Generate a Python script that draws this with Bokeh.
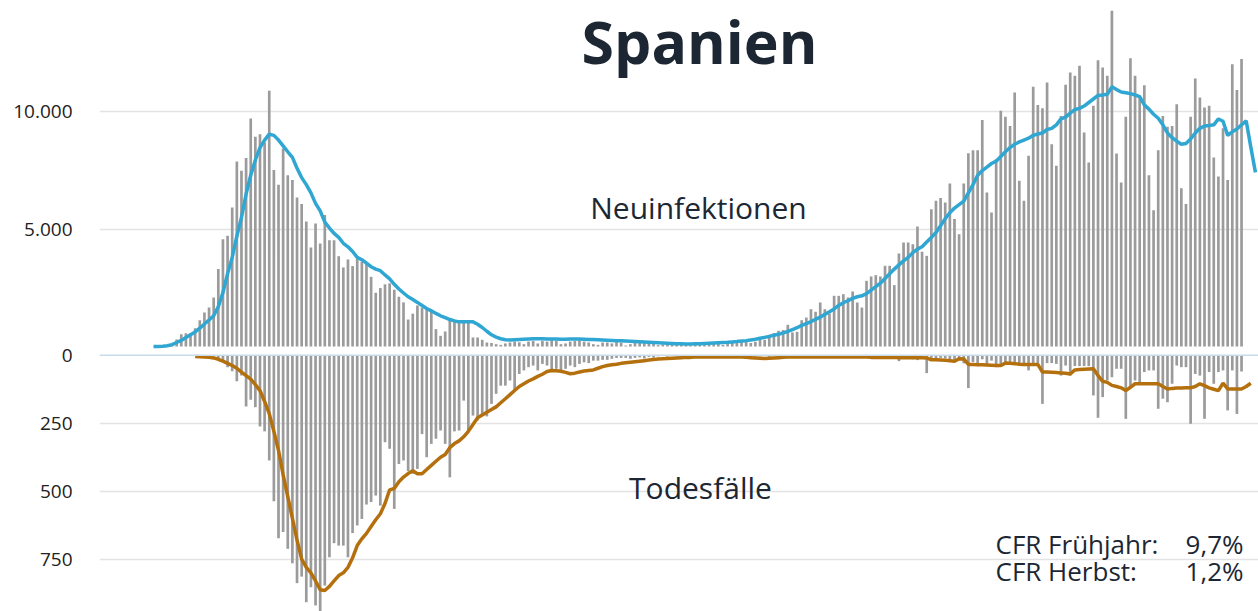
from bokeh.plotting import figure
from bokeh.models import Range1d, FixedTicker, Label, Span
from bokeh.embed import file_html
from bokeh.resources import INLINE

# ---------------- data (day 0 = 26 Feb 2020) ----------------
cases = [
    0, 0, 20, 40, 100, 300, 525, 570, 570, 780,
    1120, 1450, 1660, 2090, 3300, 4575, 4720, 5925, 7890, 7490,
    8030, 9720, 8940, 9050, 8700, 10900, 7520, 6890, 8440, 7300,
    7100, 6350, 6070, 5330, 4220, 5240, 4390, 5600, 4530, 4530,
    3850, 3370, 3710, 3430, 3750, 3620, 3560, 2970, 2290, 2490,
    2650, 2690, 2420, 2120, 1880, 1150, 1400, 1750, 1660, 1590,
    1550, 740, 455, 640, 1180, 1110, 1050, 1000, 1080, 385,
    385, 285, 170, 150, 100, 70, 130, 170, 210, 180,
    100, 210, 240, 130, 240, 210, 270, 240, 100, 130,
    210, 240, 270, 210, 170, 100, 70, 170, 170, 130,
    210, 170, 40, 100, 150, 180, 150, 160, 120, 60,
    90, 140, 160, 130, 150, 110, 50, 80, 150, 170,
    160, 180, 130, 70, 110, 190, 220, 240, 213, 150,
    200, 290, 285, 500, 570, 670, 700, 925, 600, 625,
    1120, 1235, 1590, 1480, 1875, 1590, 1405, 2160, 2160, 2230,
    2090, 2345, 1875, 1660, 2800, 2985, 3040, 2985, 3440, 3440,
    2615, 3965, 4430, 4430, 4360, 5115, 4035, 3865, 5855, 6210,
    6325, 6140, 6950, 5430, 4790, 6950, 8240, 8370, 8370, 9660,
    6565, 5710, 7985, 10045, 9790, 9400, 10830, 7060, 6210, 8130,
    11070, 10290, 10160, 11255, 8625, 7700, 9830, 11155, 11680, 11540,
    11965, 9120, 7840, 10260, 12205, 11895, 11540, 14310, 8230, 6990,
    9790, 12290, 11540, 10615, 11140, 7300, 5810, 8370, 9830, 9365,
    9400, 10330, 6750, 6070, 9790, 11425, 10615, 10190, 10260, 8060,
    7245, 9300, 7100, 12035, 10930, 12250,
]

cases_avg = [
    0, 5, 15, 30, 80, 170, 260, 380, 500, 620,
    780, 960, 1130, 1310, 1700, 2300, 3100, 3800, 4700, 5500,
    6500, 7300, 7950, 8480, 8800, 9050, 9000, 8800, 8550, 8300,
    8060, 7600, 7200, 6900, 6550, 6100, 5780, 5300, 5050, 4820,
    4650, 4400, 4250, 4050, 3800, 3700, 3550, 3400, 3300, 3230,
    3050, 2880, 2650, 2450, 2280, 2120, 2000, 1880, 1750, 1620,
    1520, 1410, 1310, 1230, 1150, 1090, 1050, 1050, 1060, 1050,
    950, 810, 650, 500, 400, 330, 290, 280, 290, 300,
    310, 320, 330, 330, 330, 320, 320, 320, 310, 310,
    320, 320, 320, 310, 300, 300, 290, 280, 270, 260,
    250, 240, 230, 220, 210, 200, 190, 180, 170, 160,
    150, 140, 130, 120, 115, 110, 110, 115, 120, 130,
    140, 150, 160, 170, 180, 195, 210, 230, 250, 280,
    310, 350, 390, 430, 480, 520, 580, 640, 720, 800,
    900, 980, 1060, 1160, 1250, 1370, 1480, 1600, 1750, 1870,
    1950, 2050, 2120, 2160, 2250, 2400, 2550, 2700, 2900, 3100,
    3300, 3480, 3650, 3800, 4000, 4150, 4250, 4450, 4650, 4860,
    5150, 5450, 5700, 5900, 6050, 6200, 6550, 6900, 7300, 7500,
    7650, 7800, 7900, 8100, 8300, 8480, 8620, 8720, 8800, 8880,
    9000, 9060, 9100, 9250, 9300, 9450, 9700, 9780, 9950, 10100,
    10150, 10250, 10400, 10550, 10700, 10720, 10750, 11070, 10950, 10850,
    10820, 10780, 10720, 10650, 10300, 10120, 9900, 9730, 9450, 9100,
    8900, 8750, 8620, 8650, 8850, 9100, 9300, 9400, 9420, 9450,
    9700, 9600, 9000, 9150, 9270, 9450, 9620, 8500, 7420,
]

deaths = [
    0, 0, 0, 0, 0, 0, 0, 0, 0, 0,
    0, 0, 2, 5, 10, 20, 44, 59, 96, 75,
    189, 164, 191, 262, 280, 387, 537, 673, 650, 712,
    765, 838, 814, 908, 853, 920, 950, 847, 743, 691,
    700, 700, 743, 654, 626, 602, 549, 540, 516, 553,
    320, 344, 565, 400, 387, 426, 436, 418, 290, 375,
    326, 307, 277, 326, 449, 280, 277, 167, 277, 222,
    240, 216, 225, 179, 142, 112, 112, 93, 130, 69,
    56, 44, 38, 56, 32, 38, 62, 50, 56, 50,
    38, 44, 32, 26, 29, 20, 20, 17, 17, 13,
    10, 10, 10, 13, 10, 8, 12, 6, 9, 4,
    3, 5, 2, 4, 3, 2, 1, 3, 2, 4,
    3, 2, 4, 3, 2, 5, 3, 4, 2, 3,
    5, 4, 3, 6, 4, 3, 5, 4, 3, 6,
    5, 4, 6, 5, 4, 7, 6, 5, 8, 6,
    7, 9, 6, 8, 10, 7, 9, 12, 8, 10,
    10, 22, 12, 8, 15, 18, 10, 66, 15, 20,
    10, 12, 25, 20, 18, 30, 121, 25, 30, 15,
    35, 20, 44, 42, 25, 28, 30, 35, 40, 56,
    30, 30, 179, 29, 29, 32, 75, 38, 75, 40,
    40, 40, 40, 148, 230, 154, 93, 81, 50, 50,
    234, 118, 93, 99, 62, 56, 56, 197, 160, 173,
    105, 38, 44, 44, 252, 69, 75, 234, 62, 105,
    62, 56, 203, 56, 216, 60,
]

DEATHS_AVG_START = 9
deaths_avg = [
    5, 6, 7, 8, 10, 15, 22, 30, 38, 48, 62,
    75, 88, 108, 130, 170, 215, 280, 350, 440, 520,
    600, 680, 750, 780, 800, 830, 862, 865, 850, 830,
    810, 800, 780, 745, 700, 675, 655, 630, 605, 583,
    545, 495, 490, 465, 448, 435, 425, 436, 436, 420,
    405, 390, 375, 365, 340, 325, 315, 300, 280, 255,
    230, 220, 210, 200, 190, 175, 160, 145, 130, 115,
    105, 95, 87, 78, 70, 60, 56, 57, 59, 63,
    68, 66, 62, 58, 56, 54, 48, 42, 38, 35,
    33, 30, 28, 26, 24, 22, 20, 18, 16, 14,
    13, 12, 11, 10, 9, 8, 8, 7, 7, 7,
    7, 7, 7, 7, 7, 7, 7, 7, 8, 9,
    10, 11, 12, 11, 10, 9, 8, 7, 7, 7,
    7, 7, 7, 7, 7, 7, 7, 7, 7, 7,
    7, 7, 7, 7, 7, 8, 8, 8, 8, 8,
    8, 9, 9, 9, 9, 9, 9, 10, 17, 17,
    18, 19, 20, 22, 13, 14, 34, 34, 35, 35,
    36, 37, 38, 38, 29, 30, 31, 33, 34, 34,
    34, 34, 62, 62, 63, 64, 65, 66, 69, 54,
    53, 52, 51, 50, 75, 96, 100, 111, 115, 120,
    130, 118, 105, 105, 105, 105, 105, 105, 115, 124,
    122, 121, 121, 120, 120, 115, 105, 112, 120, 125,
    130, 103, 124, 124, 124, 124, 115, 103,
]

top_ticks = [5000, 10000]
top_tick_labels = ["5.000", "10.000"]
bottom_ticks = [0, 250, 500, 750]
bottom_tick_labels = ["0", "250", "500", "750"]

title_text = "Spanien"
top_label = "Neuinfektionen"
bottom_label = "Todesfälle"
cfr_names = ["CFR Frühjahr:", "CFR Herbst:"]
cfr_values = ["9,7%", "1,2%"]

# ---------------- layout / style ----------------
W, H = 1258, 611
LEFT = 99
PX_PER_DAY = 4.63
X0_REF = 153.0  # pixel of day 0
X_START = (LEFT - X0_REF) / PX_PER_DAY
X_END = (W - X0_REF) / PX_PER_DAY

FONT = "Open Sans"
TEXT = "#1c2733"
BAR = "#9b9b9b"
BLUE = "#2fa7d2"
BROWN = "#b5700e"
GRID = "#e3e3e3"


def ref_x(px):
    return (px - X0_REF) / PX_PER_DAY


def top_y(py):          # pixel row -> new-infections scale
    return (346 - py) * (5000 / 117.3)


def bot_y(py):          # pixel row -> deaths scale (downwards)
    return (py - 354.7) * (250 / 68.0)


cases_range = Range1d(top_y(H), top_y(0))
deaths_range = Range1d(bot_y(H), bot_y(0))


def deaths_to_cases(v):
    frac = (v - deaths_range.start) / (deaths_range.end - deaths_range.start)
    return round(cases_range.start + frac * (cases_range.end - cases_range.start), 3)


p = figure(width=W, height=H, x_range=Range1d(X_START, X_END), y_range=cases_range,
           output_backend="svg", toolbar_location=None, x_axis_location=None,
           min_border_left=LEFT, min_border_right=0, min_border_top=0, min_border_bottom=0)
p.extra_y_ranges = {"deaths": deaths_range}
p.outline_line_color = None
p.background_fill_color = "white"
p.border_fill_color = "white"
p.xgrid.visible = False

tick_pos = list(top_ticks) + [deaths_to_cases(v) for v in bottom_ticks]
tick_lab = list(top_tick_labels) + list(bottom_tick_labels)
ax = p.yaxis[0]
ax.ticker = FixedTicker(ticks=tick_pos)
ax.major_label_overrides = dict(zip(tick_pos, tick_lab))
ax.axis_line_color = None
ax.major_tick_line_color = None
ax.minor_tick_line_color = None
ax.major_tick_in = 0
ax.major_tick_out = 0
ax.major_label_standoff = 27
ax.major_label_text_font = FONT
ax.major_label_text_font_size = "19px"
ax.major_label_text_color = "#222222"

p.ygrid.ticker = FixedTicker(ticks=list(top_ticks) + [deaths_to_cases(v) for v in bottom_ticks[1:]])
p.ygrid.grid_line_color = GRID
p.ygrid.grid_line_width = 1.5

# zero line of the deaths panel
p.add_layout(Span(location=0, dimension="width", y_range_name="deaths",
                  line_color="#c8dbeb", line_width=1.5))

days = list(range(len(cases)))
days_avg = list(range(len(cases_avg)))
days_davg = list(range(DEATHS_AVG_START, DEATHS_AVG_START + len(deaths_avg)))

# new infections (upwards)
p.vbar(x=days, top=cases, bottom=0, width=0.58, fill_color=BAR, line_color=None)
p.line(x=days_avg, y=cases_avg, line_color=BLUE, line_width=3.5)

# deaths (downwards)
p.vbar(x=days, top=deaths, bottom=0, width=0.58, fill_color=BAR, line_color=None,
       y_range_name="deaths")
p.line(x=days_davg, y=deaths_avg, line_color=BROWN, line_width=3.5, y_range_name="deaths")

# texts
p.add_layout(Label(x=ref_x(699), y=top_y(40), text=title_text, text_align="center",
                   text_baseline="middle", text_font=FONT, text_font_style="bold",
                   text_font_size="59px", text_color=TEXT))
p.add_layout(Label(x=ref_x(698), y=top_y(207), text=top_label, text_align="center",
                   text_baseline="middle", text_font=FONT, text_font_size="30px",
                   text_color=TEXT))
p.add_layout(Label(x=ref_x(700), y=bot_y(487), text=bottom_label, text_align="center",
                   text_baseline="middle", text_font=FONT, text_font_size="30px",
                   text_color=TEXT, y_range_name="deaths"))
for i, (name, val) in enumerate(zip(cfr_names, cfr_values)):
    yy = bot_y(543 + 27 * i)
    p.add_layout(Label(x=ref_x(995), y=yy, text=name, text_align="left",
                       text_baseline="middle", text_font=FONT, text_font_size="26px",
                       text_color=TEXT, y_range_name="deaths"))
    p.add_layout(Label(x=ref_x(1243), y=yy, text=val, text_align="right",
                       text_baseline="middle", text_font=FONT, text_font_size="26px",
                       text_color=TEXT, y_range_name="deaths"))

open("out.html", "w").write(file_html(p, INLINE))
